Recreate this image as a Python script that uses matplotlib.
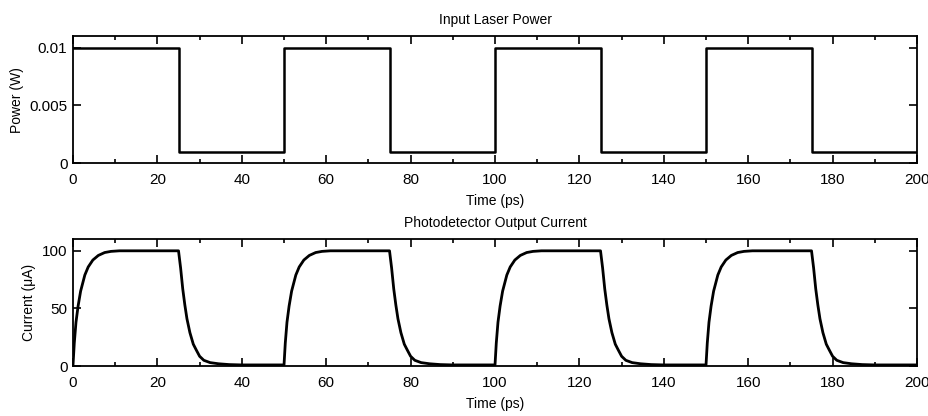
"""
Input laser power vs photodetector output current
"""
import numpy as np
import matplotlib.pyplot as plt
from matplotlib.ticker import MultipleLocator

plt.rcParams['font.family'] = ['Liberation Sans', 'DejaVu Sans']

# laser power levels (W) and switching edges (ps)
p_high = 0.01
p_low = 0.001
rise_edges = [0, 50, 100, 150]
fall_edges = [25, 75, 125, 175]
t_end = 200

# photodetector response: offset after edge (ps), current (uA)
rise_dt = [0, 0.3, 0.7, 1.2, 1.8, 2.8, 3.6, 4.7, 6.0, 7.5, 9.0, 11.0, 25.0]
rise_i = [1, 20, 38, 52, 65, 79, 86, 92, 96, 98.5, 99.5, 100, 100]
fall_dt = [0, 0.5, 1.0, 1.5, 2.0, 2.7, 3.5, 4.2, 5.0, 6.0, 7.5, 9.5, 12.0, 15.0, 25.0]
fall_i = [100, 85, 67, 53, 41, 29, 19, 14, 8.5, 5, 3, 2, 1.3, 1, 1]

# square wave for the laser
tp, pp = [], []
for r, f in zip(rise_edges, fall_edges):
    tp += [r, r, f, f]
    pp += [p_low, p_high, p_high, p_low]
tp.append(t_end)
pp.append(p_low)
tp, pp = tp[1:], pp[1:]   # no rising edge drawn at t=0

# current trace assembled from rise / fall profiles
t_cur, i_cur = [], []
for r, f in zip(rise_edges, fall_edges):
    t_cur += [r + d for d in rise_dt]
    i_cur += rise_i
    t_cur += [f + d for d in fall_dt]
    i_cur += fall_i

fig = plt.figure(figsize=(9.29, 4.16), dpi=100)
ax1 = fig.add_axes([0.0786, 0.608, 0.9085, 0.3053])
ax2 = fig.add_axes([0.0786, 0.120, 0.9085, 0.3048])

ax1.plot(tp, pp, color='black', linewidth=1.8)
ax1.set_xlim(0, 200)
ax1.set_ylim(0, 0.011)
ax1.set_yticks([0, 0.005, 0.01])
ax1.set_yticklabels(['0', '0.005', '0.01'])
ax1.set_ylabel('Power (W)', fontsize=10)
ax1.set_xlabel('Time (ps)', fontsize=10, labelpad=5)
ax1.set_title('Input Laser Power', fontsize=10, pad=9)

ax2.plot(t_cur, i_cur, color='black', linewidth=2)
ax2.set_xlim(0, 200)
ax2.set_ylim(0, 110)
ax2.set_yticks([0, 50, 100])
ax2.set_ylabel('Current (\u03bcA)', fontsize=10)
ax2.set_xlabel('Time (ps)', fontsize=10, labelpad=5)
ax2.set_title('Photodetector Output Current', fontsize=10, pad=9)

for ax in (ax1, ax2):
    ax.xaxis.set_major_locator(MultipleLocator(20))
    ax.xaxis.set_minor_locator(MultipleLocator(10))
    ax.tick_params(which='both', direction='in', top=True, right=True,
                   labelsize=11, width=1.2)
    ax.tick_params(axis='x', pad=7)
    ax.tick_params(axis='y', pad=4)
    ax.tick_params(which='major', length=6)
    ax.tick_params(which='minor', length=3)
    for s in ax.spines.values():
        s.set_linewidth(1.3)

plt.savefig('out.png', dpi=100)
plt.close('all')
